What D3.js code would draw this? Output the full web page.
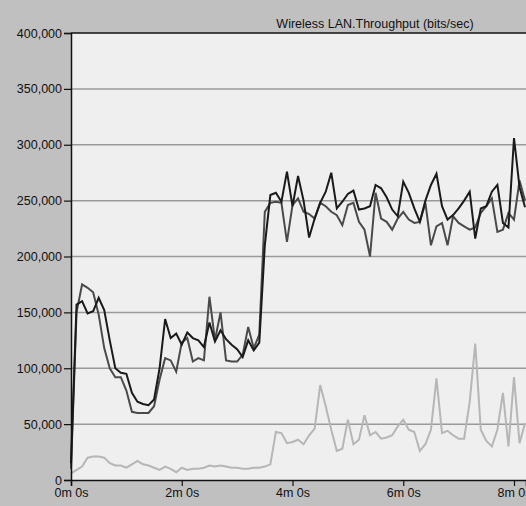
<!DOCTYPE html>
<html>
<head>
<meta charset="utf-8">
<script src="https://cdn.jsdelivr.net/npm/d3@7"></script>
<style>
  html, body { margin: 0; padding: 0; background: #c0c0c0; }
  svg { display: block; }
</style>
</head>
<body>
<svg id="chart" width="526" height="506"></svg>
<script>
// Sample times (seconds)
const timesSec = [
  0, 6, 12, 18, 24, 30, 36, 42, 48, 54, 60, 66, 72, 78, 84, 90, 96, 102, 108, 114,
  120, 126, 132, 138, 144, 150, 156, 162, 168, 174, 180, 186, 192, 198, 204, 210, 216, 222, 228, 234,
  240, 246, 252, 258, 264, 270, 276, 282, 288, 294, 300, 306, 312, 318, 324, 330, 336, 342, 348, 354,
  360, 366, 372, 378, 384, 390, 396, 402, 408, 414, 420, 426, 432, 438, 444, 450, 456, 462, 468, 474,
  480, 486, 492
];

// Throughput series (bits/sec)
const seriesA = [
  15000, 157000, 160000, 149000, 151000, 163000, 152000, 125000, 100000, 96000,
  95000, 78000, 70000, 68000, 67000, 72000, 100000, 144000, 127000, 131000,
  121000, 132000, 127000, 125000, 119000, 141000, 124000, 134000, 126000, 121000,
  117000, 110000, 125000, 116000, 123000, 210000, 255000, 257000, 249000, 276000,
  245000, 272000, 250000, 217000, 234000, 248000, 258000, 275000, 243000, 249000,
  256000, 259000, 242000, 243000, 245000, 264000, 261000, 253000, 242000, 236000,
  267000, 257000, 243000, 231000, 250000, 264000, 274000, 245000, 233000, 237000,
  243000, 250000, 258000, 216000, 243000, 245000, 258000, 264000, 230000, 226000,
  306000, 262000, 244000
];

const seriesB = [
  10000, 150000, 175000, 172000, 168000, 148000, 118000, 100000, 92000, 92000,
  80000, 61000, 60000, 60000, 60000, 66000, 90000, 109000, 107000, 97000,
  123000, 127000, 106000, 109000, 107000, 164000, 125000, 150000, 107000, 106000,
  106000, 112000, 137000, 118000, 130000, 240000, 248000, 249000, 248000, 213000,
  246000, 252000, 240000, 238000, 234000, 248000, 245000, 240000, 237000, 228000,
  246000, 248000, 231000, 224000, 200000, 257000, 234000, 231000, 224000, 234000,
  240000, 233000, 230000, 231000, 248000, 210000, 227000, 230000, 210000, 236000,
  230000, 227000, 224000, 226000, 239000, 245000, 252000, 222000, 224000, 239000,
  233000, 268000, 250000
];

const seriesC = [
  6000, 9000, 12000, 20000, 21000, 21000, 20000, 15000, 13000, 13000,
  11000, 14000, 17000, 14000, 13000, 11000, 9000, 12000, 10000, 7000,
  11000, 9000, 10000, 10000, 11000, 13000, 12000, 13000, 12000, 11000,
  11000, 10000, 10000, 11000, 11000, 12000, 14000, 43000, 42000, 33000,
  34000, 36000, 32000, 40000, 46000, 85000, 66000, 45000, 26000, 28000,
  54000, 32000, 36000, 58000, 40000, 43000, 37000, 38000, 40000, 48000,
  54000, 45000, 43000, 26000, 32000, 45000, 91000, 42000, 44000, 40000,
  37000, 37000, 70000, 122000, 45000, 35000, 30000, 45000, 78000, 30000,
  92000, 33000, 51000
];

const yTicks = [0, 50000, 100000, 150000, 200000, 250000, 300000, 350000, 400000];
const xTicks = [0, 120, 240, 360, 480];
const xTickLabels = ["0m 0s", "2m 0s", "4m 0s", "6m 0s", "8m 0s"];
const chartTitle = "Wireless LAN.Throughput (bits/sec)";

const svg = d3.select("#chart");
const plotLeft = 71, plotRight = 526, plotTop = 33, plotBottom = 480;
const font = "'Liberation Sans', Arial, sans-serif";

const x = d3.scaleLinear().domain([0, 493]).range([plotLeft, plotRight]);
const y = d3.scaleLinear().domain([0, 400000]).range([plotBottom, plotTop]);

// outer panel
svg.append("rect").attr("x", 0).attr("y", 0).attr("width", 526).attr("height", 506).attr("fill", "#c0c0c0");

// plot area
svg.append("rect")
  .attr("x", plotLeft).attr("y", plotTop)
  .attr("width", plotRight - plotLeft).attr("height", plotBottom - plotTop)
  .attr("fill", "#efefef");

// horizontal grid
svg.append("g").selectAll("line")
  .data(yTicks.filter(d => d > 0 && d < 400000))
  .join("line")
  .attr("x1", plotLeft).attr("x2", plotRight)
  .attr("y1", d => y(d)).attr("y2", d => y(d))
  .attr("stroke", "#9a9a9a").attr("stroke-width", 1.5);

// top border
svg.append("line")
  .attr("x1", plotLeft).attr("x2", plotRight)
  .attr("y1", y(400000)).attr("y2", y(400000))
  .attr("stroke", "#111").attr("stroke-width", 1.5);

// series lines
const line = d3.line()
  .x((d, i) => x(timesSec[i]))
  .y(d => y(d));

const plot = svg.append("g");
[
  { values: seriesC, color: "#b6b6b6" },
  { values: seriesB, color: "#4a4a4a" },
  { values: seriesA, color: "#1a1a1a" }
].forEach(s => {
  plot.append("path")
    .datum(s.values)
    .attr("d", line)
    .attr("fill", "none")
    .attr("stroke", s.color)
    .attr("stroke-width", 2)
    .attr("stroke-linejoin", "miter");
});

// y axis
const yAxis = svg.append("g")
  .attr("transform", `translate(${plotLeft},0)`)
  .call(d3.axisLeft(y).tickValues(yTicks).tickFormat(d3.format(",")).tickSize(7).tickPadding(2));

// x axis
const xAxis = svg.append("g")
  .attr("transform", `translate(0,${plotBottom})`)
  .call(d3.axisBottom(x).tickValues(xTicks).tickFormat((d, i) => xTickLabels[i]).tickSize(6).tickPadding(2));

[yAxis, xAxis].forEach(g => {
  g.select(".domain").attr("stroke", "#111").attr("stroke-width", 1.5);
  g.selectAll(".tick line").attr("stroke", "#111").attr("stroke-width", 1.2);
  g.selectAll(".tick text")
    .attr("fill", "#111")
    .style("font-family", font)
    .style("font-size", "12.5px");
});

// title
svg.append("text")
  .attr("x", 375).attr("y", 28)
  .attr("text-anchor", "middle")
  .attr("fill", "#111")
  .style("font-family", font)
  .style("font-size", "12.5px")
  .text(chartTitle);
</script>
</body>
</html>
